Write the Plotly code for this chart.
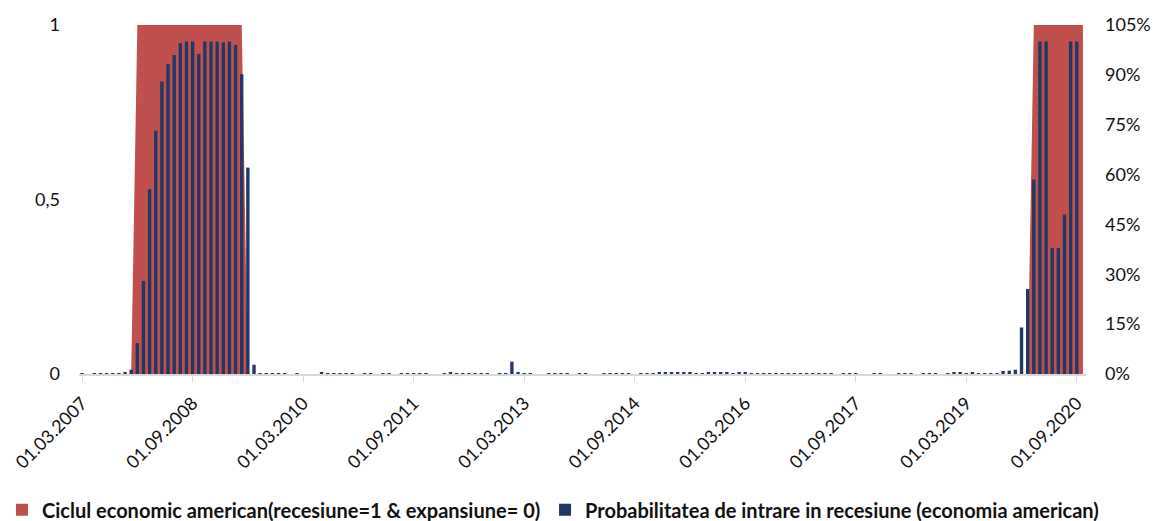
import pandas as pd
import plotly.graph_objects as go

# Monthly observations, March 2007 - October 2020
months = [d.strftime("%d.%m.%Y") for d in pd.date_range("2007-03-01", "2020-10-01", freq="MS")]

# US business cycle indicator (recession = 1, expansion = 0)
recession = (
    [0] * 9            # 03.2007 - 11.2007
    + [1] * 18         # 12.2007 - 05.2009
    + [0] * 128        # 06.2009 - 01.2020
    + [1] * 9          # 02.2020 - 10.2020
)

# Probability of entering a recession, in percent
probability_pct = [
    0.1, 0, 0.1, 0.1, 0.1, 0.1, 0.1, 0.6, 1.3, 9.3,
    28, 55.6, 73.2, 88, 93.2, 96, 99.5, 100, 100, 96.3,
    100, 100, 100, 99.8, 100, 99, 90.2, 62.1, 2.8, 0.2,
    0.1, 0.1, 0.1, 0.1, 0, 0.1, 0, 0, 0, 0.4,
    0.15, 0.1, 0.1, 0.1, 0.1, 0, 0.1, 0.1, 0, 0.2,
    0.1, 0, 0.1, 0.1, 0.1, 0.1, 0.3, 0, 0, 0.1,
    0.4, 0.1, 0.15, 0.1, 0.1, 0.2, 0.1, 0, 0.1, 0.1,
    3.7, 0.5, 0.1, 0.1, 0, 0, 0.3, 0.1, 0.1, 0.1,
    0, 0.1, 0.1, 0, 0, 0.1, 0.1, 0.1, 0.1, 0.1,
    0, 0.1, 0.1, 0.15, 0.4, 0.6, 0.5, 0.5, 0.5, 0.5,
    0.2, 0.2, 0.4, 0.5, 0.6, 0.5, 0.2, 0.5, 0.5, 0.3,
    0.15, 0.1, 0.1, 0.1, 0.1, 0.1, 0.1, 0.1, 0.1, 0.25,
    0.1, 0.1, 0.1, 0, 0.1, 0.3, 0.1, 0, 0, 0.1,
    0.3, 0, 0, 0.1, 0.1, 0.1, 0, 0.1, 0.1, 0.1,
    0, 0.1, 0.5, 0.5, 0.3, 0.5, 0.15, 0.1, 0.1, 0.1,
    0.9, 1.0, 1.3, 14, 25.6, 58.5, 100, 100, 37.9, 37.9,
    48, 100, 100, None,
]

tick_labels = [
    "01.03.2007", "01.09.2008", "01.03.2010", "01.09.2011", "01.03.2013",
    "01.09.2014", "01.03.2016", "01.09.2017", "01.03.2019", "01.09.2020",
]

cycle_name = "Ciclul economic american(recesiune=1 & expansiune= 0)"
prob_name = "Probabilitatea de intrare in recesiune (economia american)"

probability = [None if v is None else v / 100 for v in probability_pct]

FONT = "Lato"
TEXT = "#111111"
RED = "#C0504D"
NAVY = "#1F3864"
LEGEND_FONT = dict(family=FONT, size=20, color=TEXT, weight="bold")

fig = go.Figure()

# Recession periods as a filled area on the left axis
fig.add_trace(go.Scatter(
    x=months,
    y=recession,
    name=cycle_name,
    mode="lines",
    line=dict(width=0, color=RED),
    fill="tozeroy",
    fillcolor=RED,
    yaxis="y",
    showlegend=False,
    legendgroup="cycle",
    hoverinfo="skip",
))

# Square legend key for the area series
fig.add_trace(go.Bar(
    x=[None],
    y=[None],
    name=cycle_name,
    marker=dict(color=RED, line=dict(width=0)),
    legendgroup="cycle",
    legend="legend",
    yaxis="y",
))

# Recession probability bars on the right axis
fig.add_trace(go.Bar(
    x=months,
    y=probability,
    name=prob_name,
    marker=dict(color=NAVY, line=dict(width=0)),
    legend="legend2",
    yaxis="y2",
))

fig.update_layout(
    width=1156,
    height=521,
    margin=dict(l=79, r=70, t=25, b=147, autoexpand=False),
    paper_bgcolor="white",
    plot_bgcolor="white",
    separators=", ",
    barmode="overlay",
    bargap=0.45,
    showlegend=True,
    font=dict(family=FONT, size=18, color=TEXT),
    xaxis=dict(
        type="category",
        categoryorder="array",
        categoryarray=months,
        range=[-0.5, len(months) - 0.5],
        tickmode="array",
        tickvals=tick_labels,
        ticktext=tick_labels,
        tickangle=-45,
        automargin=False,
        showline=True,
        linecolor="#D9D9D9",
        linewidth=1.5,
        ticks="outside",
        ticklen=6,
        tickcolor="#D9D9D9",
        ticklabelstandoff=4,
        showgrid=False,
        zeroline=False,
        tickfont=dict(family=FONT, size=18, color=TEXT),
    ),
    yaxis=dict(
        range=[0, 1],
        tickvals=[0, 0.5, 1],
        showgrid=False,
        zeroline=False,
        showline=False,
        automargin=False,
        ticklabelstandoff=18,
        tickfont=dict(family=FONT, size=18, color=TEXT),
    ),
    yaxis2=dict(
        range=[0, 1.05],
        overlaying="y",
        side="right",
        tickvals=[0, 0.15, 0.30, 0.45, 0.60, 0.75, 0.90, 1.05],
        tickformat=".0%",
        showgrid=False,
        zeroline=False,
        showline=False,
        automargin=False,
        ticklabelstandoff=18,
        tickfont=dict(family=FONT, size=18, color=TEXT),
    ),
    legend=dict(
        orientation="h",
        x=-0.0765,
        xanchor="left",
        y=-0.389,
        yanchor="middle",
        font=LEGEND_FONT,
        itemwidth=30,
    ),
    legend2=dict(
        orientation="h",
        x=0.4628,
        xanchor="left",
        y=-0.389,
        yanchor="middle",
        font=LEGEND_FONT,
        itemwidth=30,
    ),
)

fig.write_html("out.html")
